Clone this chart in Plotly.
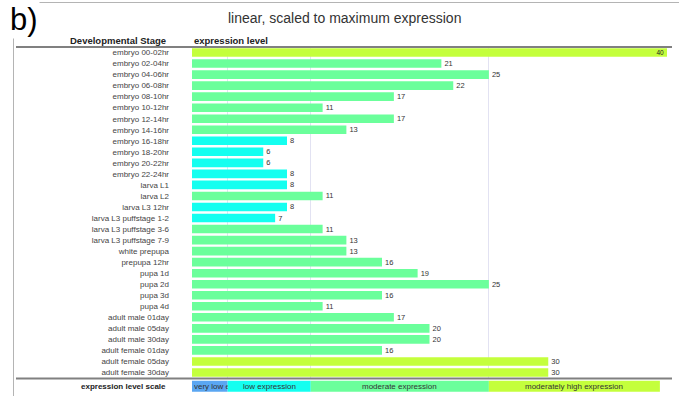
import plotly.graph_objects as go

stages = [
    "embryo 00-02hr", "embryo 02-04hr", "embryo 04-06hr", "embryo 06-08hr",
    "embryo 08-10hr", "embryo 10-12hr", "embryo 12-14hr", "embryo 14-16hr",
    "embryo 16-18hr", "embryo 18-20hr", "embryo 20-22hr", "embryo 22-24hr",
    "larva L1", "larva L2", "larva L3 12hr", "larva L3 puffstage 1-2",
    "larva L3 puffstage 3-6", "larva L3 puffstage 7-9", "white prepupa",
    "prepupa 12hr", "pupa 1d", "pupa 2d", "pupa 3d", "pupa 4d",
    "adult male 01day", "adult male 05day", "adult male 30day",
    "adult female 01day", "adult female 05day", "adult female 30day",
]
expression = [40, 21, 25, 22, 17, 11, 17, 13, 8, 6, 6, 8, 8, 11, 8, 7,
              11, 13, 13, 16, 19, 25, 16, 11, 17, 20, 20, 16, 30, 30]

scale_names = ["very low expression", "low expression",
               "moderate expression", "moderately high expression"]
scale_bounds = [0, 3, 10, 25, 39.4]
scale_colors = ["#5aa6f2", "#14fff0", "#6bff9b", "#c4ff3c"]

X_MAX = 40


def level_color(v):
    for i in range(len(scale_names) - 1):
        if v <= scale_bounds[i + 1]:
            return scale_colors[i]
    return scale_colors[-1]


bar_colors = [level_color(v) for v in expression]
positions = ["inside" if v == max(expression) else "outside" for v in expression]

W, H = 679, 396
L, R, T, B = 192, 12, 47, 18
PW, PH = W - L - R, H - T - B


def px_x(x):
    return (x - L) / PW


def px_y(y):
    return (H - B - y) / PH


FONT = "Liberation Sans, Arial, Helvetica, sans-serif"

fig = go.Figure(go.Bar(
    x=expression,
    y=stages,
    orientation="h",
    marker=dict(color=bar_colors, line=dict(width=0)),
    text=[str(v) for v in expression],
    textposition=positions,
    insidetextanchor="end",
    textangle=0,
    constraintext="none",
    outsidetextfont=dict(size=7.5, color="#333", family=FONT),
    insidetextfont=dict(size=6.5, color="#222", family=FONT),
    cliponaxis=False,
    hoverinfo="x+y",
))

shapes = []
# frame lines
shapes.append(dict(type="line", xref="paper", yref="paper",
                   x0=px_x(36), x1=px_x(679), y0=px_y(2.5), y1=px_y(2.5),
                   line=dict(color="#b4b4b4", width=1)))
shapes.append(dict(type="line", xref="paper", yref="paper",
                   x0=px_x(13.5), x1=px_x(13.5), y0=px_y(30), y1=px_y(396),
                   line=dict(color="#b4b4b4", width=1)))
# header / footer rules
for yy in (47, 378.5):
    shapes.append(dict(type="line", xref="paper", yref="paper",
                       x0=px_x(16), x1=px_x(672), y0=px_y(yy), y1=px_y(yy),
                       line=dict(color="#808080", width=2)))
# legend scale boxes
for i, col in enumerate(scale_colors):
    shapes.append(dict(type="rect", xref="x", yref="paper",
                       x0=scale_bounds[i], x1=scale_bounds[i + 1],
                       y0=px_y(380.7), y1=px_y(391.7),
                       line=dict(width=0), fillcolor=col, layer="above"))

annotations = [
    dict(text="b)", xref="paper", yref="paper", x=px_x(8), y=px_y(19),
         xanchor="left", yanchor="middle", showarrow=False,
         font=dict(size=31, color="#000", family=FONT), bgcolor="white"),
    dict(text="linear, scaled to maximum expression", xref="paper", yref="paper",
         x=px_x(344), y=px_y(18), xanchor="center", yanchor="middle",
         showarrow=False, font=dict(size=14, color="#333", family=FONT)),
    dict(text="<b>Developmental Stage</b>", xref="paper", yref="paper",
         x=px_x(168), y=px_y(40), xanchor="right", yanchor="middle",
         showarrow=False, font=dict(size=9.5, color="#222", family=FONT)),
    dict(text="<b>expression level</b>", xref="paper", yref="paper",
         x=px_x(192), y=px_y(40), xanchor="left", yanchor="middle",
         showarrow=False, font=dict(size=9.5, color="#222", family=FONT)),
    dict(text="<b>expression level scale</b>", xref="paper", yref="paper",
         x=px_x(168), y=px_y(386.3), xanchor="right", yanchor="middle",
         showarrow=False, font=dict(size=8, color="#222", family=FONT)),
]
for i, name in enumerate(scale_names):
    if i == 0:
        annotations.append(dict(
            text=name, xref="x", yref="paper", x=scale_bounds[0],
            y=px_y(386.3), xanchor="left", yanchor="middle", align="left",
            width=(scale_bounds[1] - scale_bounds[0]) * PW / X_MAX - 2,
            showarrow=False, font=dict(size=8, color="#333", family=FONT)))
    else:
        annotations.append(dict(
            text=name, xref="x", yref="paper",
            x=(scale_bounds[i] + scale_bounds[i + 1]) / 2,
            y=px_y(386.3), xanchor="center", yanchor="middle",
            showarrow=False, font=dict(size=8, color="#333", family=FONT)))

fig.update_layout(
    width=W, height=H,
    margin=dict(l=L, r=R, t=T, b=B, pad=0),
    paper_bgcolor="white", plot_bgcolor="white",
    showlegend=False,
    bargap=0.22,
    shapes=shapes,
    annotations=annotations,
    font=dict(family=FONT),
    xaxis=dict(range=[0, X_MAX], tickvals=[scale_bounds[1], scale_bounds[2], scale_bounds[3]],
               showticklabels=False, ticks="", showgrid=True,
               gridcolor="#e2e2f2", gridwidth=1, zeroline=False, showline=False,
               fixedrange=True),
    yaxis=dict(autorange="reversed", ticks="", showline=False, showgrid=False,
               tickfont=dict(size=8, color="#444", family=FONT),
               ticklabelstandoff=22, fixedrange=True),
)

fig.write_html(
    "out.html",
    config={"displayModeBar": False},
    post_script="document.body.style.margin='0';document.body.style.overflow='hidden';",
)
